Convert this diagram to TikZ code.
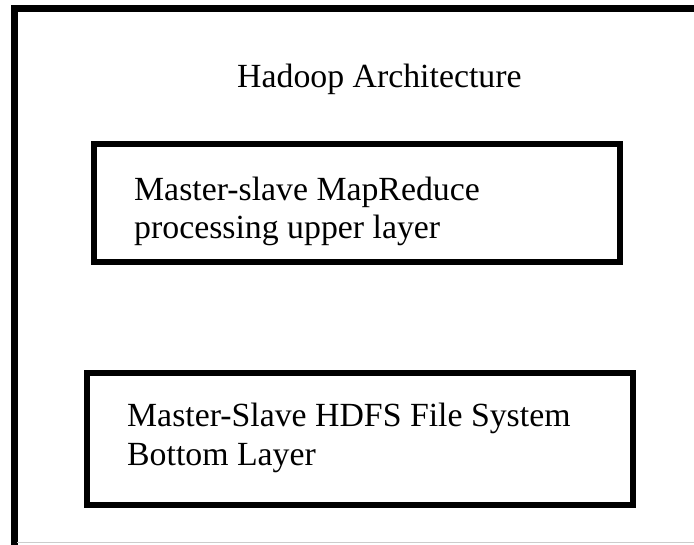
\documentclass[tikz,border=0pt]{standalone}
\usepackage{fontspec}
\setmainfont{Liberation Serif}
\begin{document}
\begin{tikzpicture}[x=1pt,y=-1pt,
  layerbox/.style={draw=black,line width=6pt,rectangle,inner sep=0pt},
  txt/.style={anchor=base west,inner sep=0pt,font=\fontsize{33.8}{38}\selectfont}]
\useasboundingbox (0,0) rectangle (694,544);
\fill[white] (0,0) rectangle (694,544);
% outer frame (clipped at right and bottom)
\coordinate (fbl) at (14,548);
\coordinate (ftl) at (14,8.5);
\coordinate (ftr) at (700,8.5);
\draw[line width=7pt] (fbl) -- (ftl) -- (ftr);
\coordinate (gl) at (17,542.5);
\coordinate (gr) at (694,542.5);
\draw[line width=1pt,black!20] (gl) -- (gr);
% title
\node[txt] (title) at (237,87) {Hadoop Architecture};
% upper layer
\node[layerbox,minimum width=526pt,minimum height=118pt] (upper) at (357,203) {};
\node[txt] (u1) at (134,200.5) {Master-slave MapReduce};
\node[txt] (u2) at (134,238.5) {processing upper layer};
% bottom layer
\node[layerbox,minimum width=546pt,minimum height=132pt] (bottom) at (360,439) {};
\node[txt] (b1) at (127,426) {Master-Slave HDFS File System};
\node[txt] (b2) at (127,465) {Bottom Layer};
\end{tikzpicture}
\end{document}
